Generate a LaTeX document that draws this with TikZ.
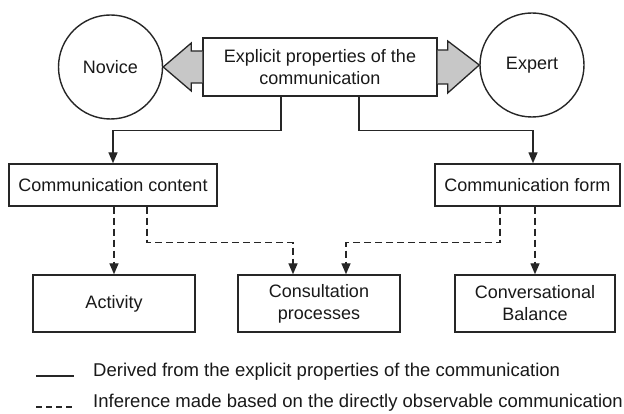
\documentclass[tikz,border=0pt]{standalone}
\usepackage{fontspec}
\setmainfont{Liberation Sans}
\usetikzlibrary{arrows.meta,calc}
\begin{document}
\begin{tikzpicture}[x=1pt,y=-1pt,
  every node/.style={font=\fontsize{18}{22}\selectfont, text=black!90},
  ln/.style={draw=black!85, line width=1.4pt},
  boxn/.style={ln, rectangle, inner sep=0pt, align=center},
  circn/.style={ln, circle, minimum size=104pt, inner sep=0pt},
  fatarrow/.style={draw=black!85, line width=1.3pt, fill=black!22, line join=miter},
  solidarr/.style={ln, -{Triangle[length=11pt,width=9pt]}},
  dasharr/.style={ln, dash pattern=on 7pt off 4pt, -{Triangle[length=11pt,width=9pt]}},
  legtext/.style={anchor=west, inner sep=0pt, font=\fontsize{18.5}{22}\selectfont}]
\useasboundingbox (0,0) rectangle (624,414);
\fill[white] (0,0) rectangle (624,414);
% nodes
\node[circn] (novice) at (110.5,67) {Novice};
\node[circn] (expert) at (532,65) {Expert};
\node[boxn, minimum width=234pt, minimum height=58pt] (top) at (320,67) {Explicit properties of the\\communication};
\node[boxn, minimum width=208pt, minimum height=42pt] (content) at (113,185) {Communication content};
\node[boxn, minimum width=185pt, minimum height=42pt] (form) at (527.5,185) {Communication form};
\node[boxn, minimum width=162pt, minimum height=57pt] (activity) at (114,303.5) {Activity};
\node[boxn, minimum width=162pt, minimum height=57pt] (consult) at (319,303.5) {Consultation\\processes};
\node[boxn, minimum width=160pt, minimum height=57pt] (conv) at (535,303.5) {Conversational\\Balance};
% fat arrows
\draw[fatarrow] ([yshift=16pt]top.west) -- ++(-11pt,0pt) -- ++(0pt,8pt) -- (novice.east)
  -- ($(top.west)+(-11pt,-24pt)$) -- ++(0pt,8pt) -- ([yshift=-16pt]top.west);
\draw[fatarrow] ([yshift=17pt]top.east) -- ++(10pt,0pt) -- ++(0pt,9pt) -- (expert.west)
  -- ($(top.east)+(10pt,-26pt)$) -- ++(0pt,9pt) -- ([yshift=-17pt]top.east);
% solid connectors
\draw[solidarr] ([xshift=-39pt]top.south) -- ++(0,34) -| (content.north);
\draw[solidarr] ([xshift=39pt]top.south) -- ++(0,34) -| ([xshift=5.5pt]form.north);
% dashed connectors
\draw[dasharr] (content.south -| activity.north) -- (activity.north);
\draw[dasharr] ([xshift=34pt]content.south) -- ++(0,36) -| ([xshift=-26pt]consult.north);
\draw[dasharr] ([xshift=-27.5pt]form.south) -- ++(0,36) -| ([xshift=27pt]consult.north);
\draw[dasharr] (form.south -| conv.north) -- (conv.north);
% legend
\coordinate (l1a) at (36,376); \coordinate (l1b) at (74,376);
\coordinate (l2a) at (36,407); \coordinate (l2b) at (74,407);
\draw[ln] (l1a) -- (l1b);
\draw[ln, dash pattern=on 6pt off 4pt] (l2a) -- (l2b);
\node[legtext] (leg1) at (93,372) {Derived from the explicit properties of the communication};
\node[legtext] (leg2) at (93,403) {Inference made based on the directly observable communication};
\end{tikzpicture}
\end{document}
